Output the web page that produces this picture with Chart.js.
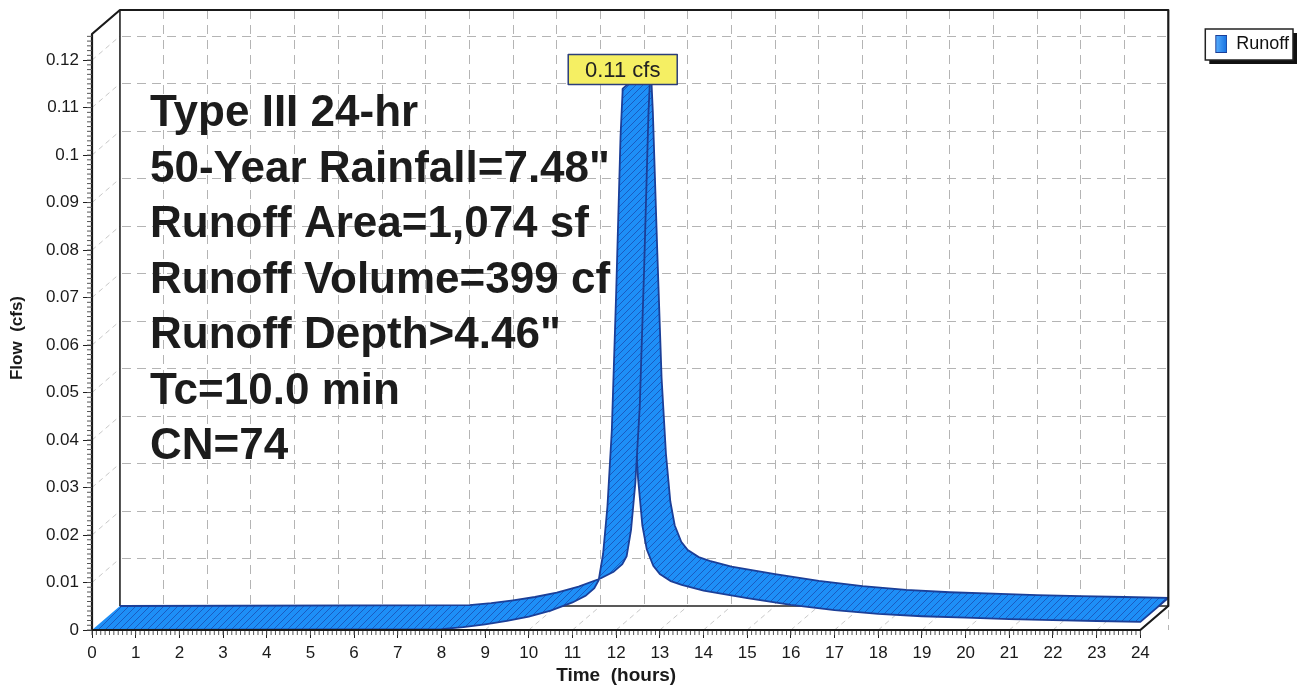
<!DOCTYPE html>
<html>
<head>
<meta charset="utf-8">
<script src="https://cdn.jsdelivr.net/npm/chart.js@4.4.1/dist/chart.umd.min.js"></script>
<style>
  html, body { margin: 0; background: #fff; }
  #wrap { width: 1304px; height: 687px; position: relative; }
</style>
</head>
<body>
<div id="wrap"><canvas id="chart"></canvas></div>
<script>
// hydrograph (hours, cfs)
const hours = [0, 8, 8.5, 9, 9.5, 10, 10.5, 11, 11.3, 11.5, 11.6, 11.7, 11.8, 11.9, 12.0, 12.1, 12.15, 12.2, 12.3, 12.4,
  12.5, 12.6, 12.7, 12.85, 13.0, 13.25, 13.5, 14, 14.5, 15, 16, 17, 18, 19, 20, 21, 22, 23, 24];
const flow = [0, 0.0002, 0.0006, 0.0012, 0.0019, 0.0028, 0.0041, 0.0058, 0.0072, 0.0088, 0.0105, 0.016, 0.026, 0.042, 0.071, 0.104, 0.114, 0.104, 0.075, 0.048,
  0.032, 0.022, 0.017, 0.0135, 0.0118, 0.0103, 0.0095, 0.0083, 0.0075, 0.0067, 0.0053, 0.0042, 0.0034, 0.0029, 0.0026, 0.0023, 0.0021, 0.0019, 0.0017];

const timeTicks = [0, 1, 2, 3, 4, 5, 6, 7, 8, 9, 10, 11, 12, 13, 14, 15, 16, 17, 18, 19, 20, 21, 22, 23, 24];
const flowTicks = [0, 0.01, 0.02, 0.03, 0.04, 0.05, 0.06, 0.07, 0.08, 0.09, 0.1, 0.11, 0.12];

const seriesName = 'Runoff';
const notes = ['Type III 24-hr', '50-Year Rainfall=7.48"', 'Runoff Area=1,074 sf', 'Runoff Volume=399 cf',
  'Runoff Depth>4.46"', 'Tc=10.0 min', 'CN=74'];

// 3d depth of the box, in axis units
const DX = 0.64, DY = 0.00505;
const TIME_END = 24, FLOW_TOP = 0.1255;

Chart.defaults.font.family = "'Liberation Sans', Arial, Helvetica, sans-serif";
Chart.defaults.color = '#1a1a1a';

// hatched blue fill
const hatch = (() => {
  const c = document.createElement('canvas');
  c.width = c.height = 7;
  const g = c.getContext('2d');
  g.fillStyle = '#1e8ff7';
  g.fillRect(0, 0, 7, 7);
  g.strokeStyle = '#1a5cc0';
  g.lineWidth = 1;
  g.beginPath();
  g.moveTo(0, 7); g.lineTo(7, 0);
  g.moveTo(-1, 1); g.lineTo(1, -1);
  g.moveTo(6, 8); g.lineTo(8, 6);
  g.stroke();
  return g.createPattern(c, 'repeat');
})();

// legend marker: a small blue block on the right of a 34px wide swatch
const marker = (() => {
  const c = document.createElement('canvas');
  c.width = 34; c.height = 18;
  const g = c.getContext('2d');
  const gr = g.createLinearGradient(22, 0, 34, 0);
  gr.addColorStop(0, '#5ab0ff');
  gr.addColorStop(1, '#1470e0');
  g.fillStyle = gr;
  g.fillRect(22.5, 0.5, 11, 17);
  g.strokeStyle = '#1b3f98';
  g.strokeRect(22.5, 0.5, 11, 17);
  return c;
})();

// front edge forward, back edge (pushed by the depth) backwards
function ribbon(i0, i1) {
  const front = [], back = [];
  for (let i = i0; i <= i1; i++) {
    front.push({ x: hours[i], y: flow[i] });
    back.unshift({ x: hours[i] + DX, y: flow[i] + DY });
  }
  return front.concat(back);
}

const peak = flow.indexOf(Math.max(...flow));

const band = {
  showLine: true,
  fill: 'shape',
  backgroundColor: hatch,
  borderColor: '#1b3f98',
  borderWidth: 1.8,
  pointRadius: 0,
  tension: 0
};

const deco = {
  id: 'deco',
  beforeDraw(chart) {
    const hb = chart.legend && chart.legend.legendHitBoxes[0];
    if (!hb) return;
    const { ctx } = chart;
    const l = hb.left + 12, t = hb.top - 6, w = hb.width - 8, h = 31;
    ctx.save();
    ctx.fillStyle = '#111';
    ctx.fillRect(l + 4, t + 4, w, h);
    ctx.fillStyle = '#fff';
    ctx.fillRect(l, t, w, h);
    ctx.strokeStyle = '#222';
    ctx.lineWidth = 1.5;
    ctx.strokeRect(l, t, w, h);
    ctx.restore();
  },
  beforeDatasetsDraw(chart) {
    const { ctx, scales: { x, y } } = chart;
    const X = v => x.getPixelForValue(v), Y = v => y.getPixelForValue(v);
    const x0 = X(0), x1 = X(TIME_END), y0 = Y(0), y1 = Y(FLOW_TOP);
    const dx = X(DX) - x0, dy = Y(DY) - y0;
    const seg = (a, b, c, d) => { ctx.beginPath(); ctx.moveTo(a, b); ctx.lineTo(c, d); ctx.stroke(); };
    ctx.save();
    // side wall and floor: no back grid there
    ctx.fillStyle = '#fff';
    ctx.beginPath();
    ctx.moveTo(x0, y0); ctx.lineTo(x0, y1); ctx.lineTo(x0 + dx, y1 + dy); ctx.lineTo(x0 + dx, y0 + dy);
    ctx.closePath(); ctx.fill();
    ctx.beginPath();
    ctx.moveTo(x0, y0); ctx.lineTo(x0 + dx, y0 + dy); ctx.lineTo(x1 + dx, y0 + dy); ctx.lineTo(x1, y0);
    ctx.closePath(); ctx.fill();
    ctx.strokeStyle = '#c8c8c8';
    ctx.lineWidth = 1;
    ctx.setLineDash([5, 4]);
    flowTicks.slice(1).forEach(v => seg(x0, Y(v), x0 + dx, Y(v) + dy));
    timeTicks.slice(1, -1).forEach(v => seg(X(v), y0, X(v) + dx, y0 + dy));
    ctx.setLineDash([]);
    ctx.strokeStyle = '#222';
    ctx.lineWidth = 1.6;
    seg(x0 + dx, y1 + dy, x0 + dx, y0 + dy);
    seg(x0 + dx, y0 + dy, x1 + dx, y0 + dy);
    ctx.restore();
  },
  afterDatasetsDraw(chart) {
    const { ctx, scales: { x, y } } = chart;
    const X = v => x.getPixelForValue(v), Y = v => y.getPixelForValue(v);
    const x0 = X(0), x1 = X(TIME_END), y0 = Y(0), y1 = Y(FLOW_TOP);
    const dx = X(DX) - x0, dy = Y(DY) - y0;
    const seg = (a, b, c, d) => { ctx.beginPath(); ctx.moveTo(a, b); ctx.lineTo(c, d); ctx.stroke(); };
    ctx.save();
    // box outline
    ctx.strokeStyle = '#1a1a1a';
    ctx.lineWidth = 2.2;
    ctx.lineJoin = 'round';
    ctx.beginPath();
    ctx.moveTo(x1, y0); ctx.lineTo(x0, y0); ctx.lineTo(x0, y1); ctx.lineTo(x0 + dx, y1 + dy);
    ctx.lineTo(x1 + dx, y1 + dy); ctx.lineTo(x1 + dx, y0 + dy); ctx.lineTo(x1, y0);
    ctx.stroke();
    // minor ticks
    ctx.lineWidth = 1;
    ctx.strokeStyle = '#555';
    for (let i = 0; i <= 240; i++) seg(X(i / 10), y0 + 1, X(i / 10), y0 + 5);
    for (let i = 0; i <= 125; i++) seg(x0 - 5, Y(i / 1000), x0, Y(i / 1000));
    // peak callout
    const px = X(hours[peak]), py = Y(flow[peak]);
    const bw = 109, bh = 30, bx = px - bw / 2, by = py - 4 - bh;
    ctx.fillStyle = '#f5ef63';
    ctx.fillRect(bx, by, bw, bh);
    ctx.strokeStyle = '#2c3e7a';
    ctx.lineWidth = 1.5;
    ctx.strokeRect(bx, by, bw, bh);
    ctx.fillStyle = '#222';
    ctx.font = "22px 'Liberation Sans', Arial, sans-serif";
    ctx.textAlign = 'center';
    ctx.textBaseline = 'middle';
    ctx.fillText(flow[peak].toFixed(2) + ' cfs', px, by + bh / 2 + 1);
    // storm notes
    ctx.fillStyle = '#1c1c1c';
    ctx.font = "bold 44px 'Liberation Sans', Arial, sans-serif";
    ctx.textAlign = 'left';
    ctx.textBaseline = 'alphabetic';
    notes.forEach((s, i) => ctx.fillText(s, 150, 126 + i * 55.5));
    // axis titles
    ctx.fillStyle = '#1a1a1a';
    ctx.textAlign = 'center';
    ctx.textBaseline = 'middle';
    ctx.font = "bold 19px 'Liberation Sans', Arial, sans-serif";
    ctx.fillText('Time  (hours)', X(12), 676);
    ctx.font = "bold 17px 'Liberation Sans', Arial, sans-serif";
    ctx.translate(17, 338);
    ctx.rotate(-Math.PI / 2);
    ctx.fillText('Flow  (cfs)', 0, 0);
    ctx.restore();
  }
};

new Chart(document.getElementById('chart'), {
  type: 'line',
  data: {
    datasets: [
      Object.assign({ label: seriesName, data: ribbon(0, peak) }, band),
      Object.assign({ label: seriesName, data: ribbon(peak, hours.length - 1) }, band)
    ]
  },
  options: {
    responsive: true,
    maintainAspectRatio: false,
    animation: false,
    events: [],
    layout: { padding: { top: 10, right: 5, bottom: 0, left: 0 } },
    plugins: {
      tooltip: { enabled: false },
      legend: {
        position: 'right',
        align: 'start',
        maxWidth: 131,
        labels: {
          filter: item => item.datasetIndex === 0,
          usePointStyle: true,
          pointStyle: marker,
          pointStyleWidth: 34,
          padding: 25,
          color: '#111',
          font: { size: 18 }
        }
      }
    },
    scales: {
      x: {
        type: 'linear',
        min: 0,
        max: TIME_END + DX,
        afterBuildTicks: s => { s.ticks = timeTicks.map(v => ({ value: v })); },
        afterFit: s => { s.height = 57; s.paddingLeft = 0; s.paddingRight = 0; },
        border: { display: false },
        grid: { drawOnChartArea: false, drawTicks: true, tickLength: 8, tickColor: '#222' },
        ticks: { autoSkip: false, maxRotation: 0, padding: 5, font: { size: 17 }, callback: v => String(v) }
      },
      y: {
        type: 'linear',
        min: 0,
        max: FLOW_TOP + DY,
        afterBuildTicks: s => { s.ticks = flowTicks.map(v => ({ value: v })); },
        afterFit: s => { s.width = 92; s.paddingTop = 0; s.paddingBottom = 0; },
        border: { display: false },
        grid: { drawOnChartArea: false, drawTicks: true, tickLength: 9, tickColor: '#222' },
        ticks: { padding: 4, font: { size: 17 }, callback: v => String(Math.round(v * 100) / 100) }
      },
      // back wall grid: same ticks, pushed back by the depth
      xb: {
        type: 'linear',
        position: 'bottom',
        min: -DX,
        max: TIME_END,
        afterBuildTicks: s => { s.ticks = timeTicks.map(v => ({ value: v })); },
        ticks: { display: false },
        border: { display: false, dash: [9, 6] },
        grid: { drawTicks: false, color: '#b4b4b4', lineWidth: 1 }
      },
      yb: {
        type: 'linear',
        position: 'left',
        min: -DY,
        max: FLOW_TOP,
        afterBuildTicks: s => { s.ticks = flowTicks.map(v => ({ value: v })); },
        ticks: { display: false },
        border: { display: false, dash: [9, 6] },
        grid: { drawTicks: false, color: '#b4b4b4', lineWidth: 1 }
      }
    }
  },
  plugins: [deco]
});
</script>
</body>
</html>
